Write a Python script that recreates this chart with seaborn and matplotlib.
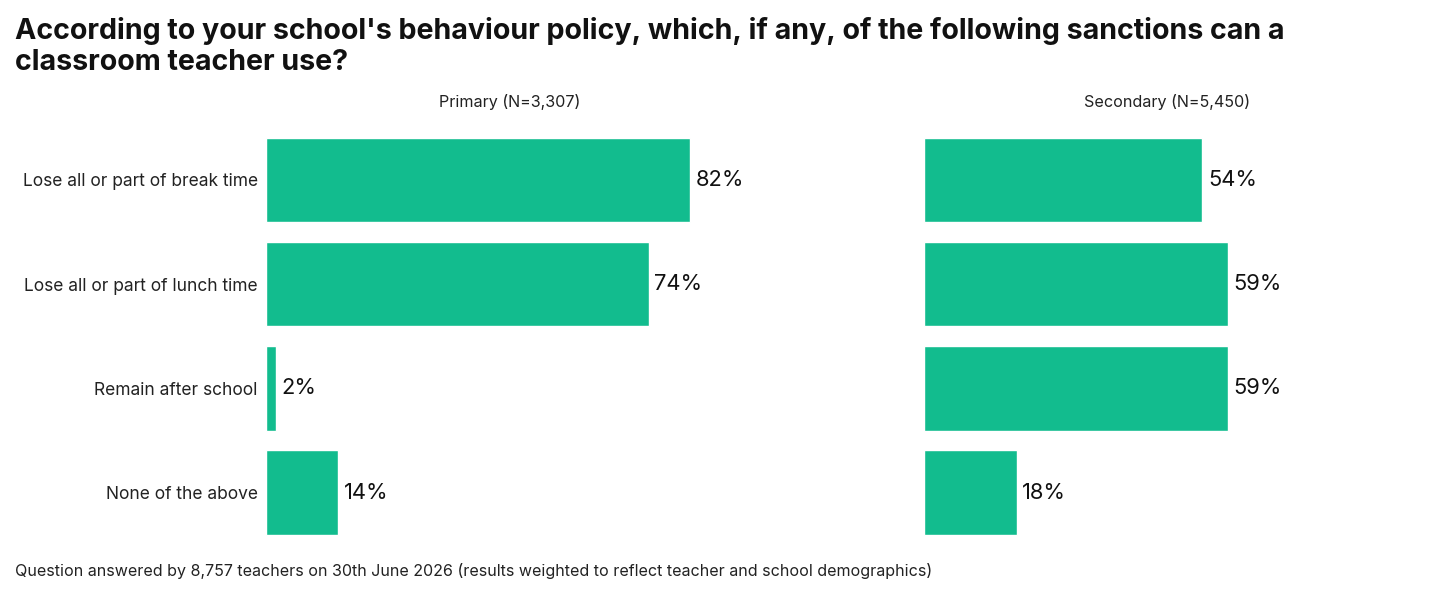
import matplotlib

matplotlib.use("Agg")
import matplotlib.pyplot as plt
import pandas as pd
import seaborn as sns

sanctions = [
    "Lose all or part of break time",
    "Lose all or part of lunch time",
    "Remain after school",
    "None of the above",
]
primary = [82, 74, 2, 14]
secondary = [54, 59, 59, 18]
panel_titles = ["Primary (N=3,307)", "Secondary (N=5,450)"]

TITLE = ("According to your school's behaviour policy, which, if any, of the following sanctions can a\n"
         "classroom teacher use?")
NOTE = ("Question answered by 8,757 teachers on 30th June 2026 "
        "(results weighted to reflect teacher and school demographics)")
GREEN = "#12BC8E"

sns.set_theme(style="white")
plt.rcParams["font.family"] = ["Inter", "DejaVu Sans"]

fig = plt.figure(figsize=(14.4, 6), dpi=100)
ax_l = fig.add_axes([0.1847, 0.092, 0.339, 0.695])
ax_r = fig.add_axes([0.6417, 0.092, 0.338, 0.695])

for ax, vals, title, show_labels in [
    (ax_l, primary, panel_titles[0], True),
    (ax_r, secondary, panel_titles[1], False),
]:
    df = pd.DataFrame({"sanction": sanctions, "pct": vals})
    sns.barplot(data=df, y="sanction", x="pct", order=sanctions, color=GREEN,
                saturation=1, width=0.81, ax=ax)
    ax.set_xlim(0, 94.4)
    ax.set_xlabel("")
    ax.set_ylabel("")
    ax.set_xticks([])
    ax.set_title(title, fontsize=11.6, color="#222222", pad=15)
    ax.bar_label(ax.containers[0], labels=[f"{v}%" for v in vals],
                 fontsize=15.8, color="#111111", padding=4)
    if show_labels:
        ax.tick_params(axis="y", length=0, pad=6, labelsize=12.5, labelcolor="#222222")
    else:
        ax.set_yticks([])
    sns.despine(ax=ax, left=True, bottom=True)

fig.text(0.0104, 0.972, TITLE, fontsize=20.6, fontweight="bold", color="#111111",
         va="top", ha="left", linespacing=1.2)
fig.text(0.0104, 0.035, NOTE, fontsize=11.55, color="#222222", va="bottom", ha="left")

fig.savefig("out.png", dpi=100)
